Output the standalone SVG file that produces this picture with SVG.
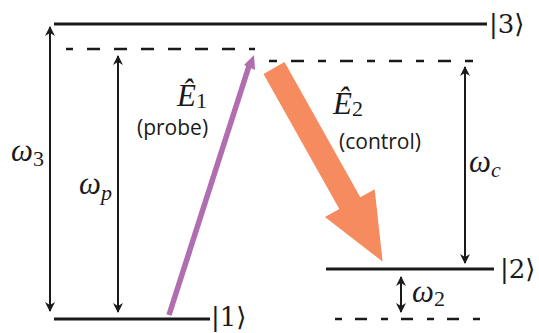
<svg xmlns="http://www.w3.org/2000/svg" width="539" height="333" viewBox="0 0 539 333">
<style>
.level{stroke:#1a1a1a;stroke-width:3;fill:none}
.dash{stroke:#1a1a1a;stroke-width:2.5;fill:none}
.arr{stroke:#1a1a1a;stroke-width:2;fill:none;marker-start:url(#ah);marker-end:url(#ah)}
.math{font-family:"Liberation Serif","DejaVu Serif",serif;font-style:italic;fill:#1a1a1a;font-size:31px}
.sub{font-family:"Liberation Serif","DejaVu Serif",serif;font-style:normal;font-size:22px}
.isub{font-size:22px}
.ket{font-family:"DejaVu Serif","Liberation Serif",serif;fill:#1a1a1a;font-size:26px}
.lbl{font-family:"Open Sans","Liberation Sans",sans-serif;fill:#1a1a1a;font-size:21px}
</style>
<defs>
<marker id="ah" viewBox="0 0 10 10" refX="9" refY="5" markerWidth="5" markerHeight="5" orient="auto-start-reverse" markerUnits="strokeWidth">
<path d="M0,0 L10,5 L0,10 L3,5 Z" fill="#1a1a1a"/>
</marker>
</defs>
<g id="level3">
<line class="level" x1="54" y1="24" x2="487" y2="24"/>
<text class="ket" x="489" y="33">|3⟩</text>
</g>
<g id="virtual-p">
<line class="dash" x1="66" y1="49" x2="258" y2="49" stroke-dasharray="7,14,13,14,13,14,13,14,13,14,13,14,13,14,6"/>
</g>
<g id="virtual-c">
<line class="dash" x1="269" y1="61" x2="487" y2="61" stroke-dasharray="8,14,13,14"/>
</g>
<g id="level1">
<line class="level" x1="54" y1="319" x2="210" y2="319"/>
<text class="ket" x="211" y="326">|1⟩</text>
</g>
<g id="level2">
<line class="level" x1="326" y1="269" x2="494" y2="269"/>
<text class="ket" x="500" y="278">|2⟩</text>
</g>
<g id="virtual-2">
<line class="dash" x1="335" y1="319" x2="492" y2="319" stroke-dasharray="7,13,12,14"/>
</g>
<g id="connectors">
<line class="arr" x1="50" y1="27" x2="50" y2="311"/>
<line class="arr" x1="118" y1="56" x2="118" y2="312"/>
<line class="arr" x1="465" y1="67" x2="465" y2="263"/>
<line class="arr" x1="401" y1="277" x2="401" y2="312"/>
<line x1="169" y1="315" x2="249" y2="66" stroke="#B06DAF" stroke-width="5.5"/>
<polygon points="244,65 254,55 255,70" fill="#B06DAF"/>
<polygon points="284.5,62 263.5,74 339.3,209.1 324.9,217.1 382.6,261.6 374.7,189.3 360.3,197.3" fill="#F68B60"/>
</g>
<g id="labels">
<text class="math" x="11" y="161">ω<tspan class="sub" dy="5">3</tspan></text>
<text class="math" x="79" y="194">ω<tspan class="isub" dy="6">p</tspan></text>
<text class="math" x="469" y="172">ω<tspan class="isub" dy="5">c</tspan></text>
<text class="math" x="412" y="302">ω<tspan class="sub" dy="4">2</tspan></text>
<text class="math" x="177" y="106" font-size="29">Ê<tspan class="sub" dy="2">1</tspan></text>
<text class="lbl" x="137" y="135">(probe)</text>
<text class="math" x="333" y="114" font-size="29">Ê<tspan class="sub" dy="2">2</tspan></text>
<text class="lbl" x="339" y="149">(control)</text>
</g>
</svg>
